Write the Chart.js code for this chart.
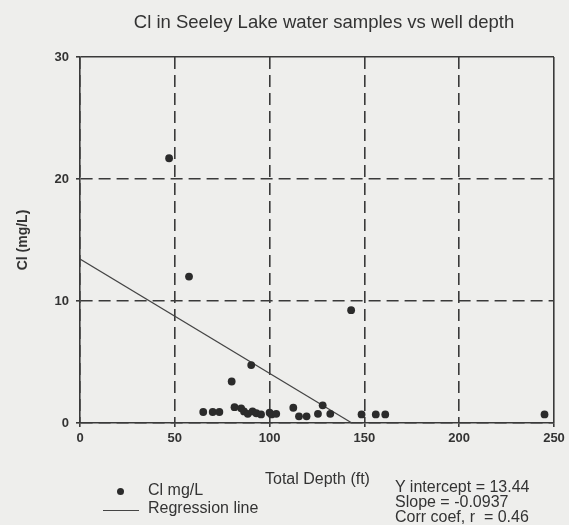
<!DOCTYPE html>
<html>
<head>
<meta charset="utf-8">
<script src="https://cdn.jsdelivr.net/npm/chart.js@4.4.1/dist/chart.umd.min.js"></script>
<style>
    html, body {
        margin: 0;
        padding: 0;
        background: #eeeeec;
        overflow: hidden;
    }
    #wrap {
        position: relative;
        width: 569px;
        height: 525px;
        font-family: "Liberation Sans", Arial, sans-serif;
        color: #333;
    }
    #chart {
        position: absolute;
        left: 0;
        top: 0;
    }
    .txt {
        position: absolute;
        font-size: 16px;
        line-height: 16px;
        white-space: pre;
    }
    #title {
        left: 124px;
        width: 400px;
        top: 13px;
        text-align: center;
        font-size: 18.5px;
        line-height: 18px;
    }
    #stats {
        left: 395px;
        top: 479px;
        line-height: 15px;
    }
    .dot {
        position: absolute;
        width: 7px;
        height: 7px;
        border-radius: 50%;
        background: #2b2b2b;
    }
    .rule {
        position: absolute;
        height: 1px;
        background: #444;
    }
</style>
</head>
<body>
<div id="wrap">
    <canvas id="chart" width="569" height="525"></canvas>
    <div class="txt" id="title">Cl in Seeley Lake water samples vs well depth</div>
    <div class="txt" style="left:265px; top:471px;">Total Depth (ft)</div>
    <span class="dot" style="left:117px; top:488px;"></span>
    <div class="txt" style="left:148px; top:482px;">Cl mg/L</div>
    <span class="rule" style="left:103px; top:510px; width:36px;"></span>
    <div class="txt" style="left:148px; top:500px;">Regression line</div>
    <div class="txt" id="stats">Y intercept = 13.44
Slope = -0.0937
Corr coef, r  = 0.46</div>
</div>
<script>
// well depth (ft) and chloride (mg/L) for each sample
const depthFt = [47, 57.5, 65, 70, 73.5, 80, 81.5, 85, 86.5, 88.5, 90.3, 91, 93, 95.5, 100, 101, 103.5,
    112.5, 115.5, 119.5, 125.5, 128, 132, 143, 148.5, 156, 161, 245];
const clMgL = [21.7, 12.0, 0.9, 0.9, 0.9, 3.4, 1.3, 1.2, 0.95, 0.75, 4.75, 0.95, 0.8, 0.7, 0.85, 0.7, 0.75,
    1.25, 0.55, 0.55, 0.75, 1.45, 0.75, 9.25, 0.7, 0.7, 0.7, 0.7];

// regression line end points (intercept 13.44, crosses zero near 143.4 ft)
const regDepth = [0, 143.4];
const regCl = [13.44, 0];

const xTicks = [0, 50, 100, 150, 200, 250];
const yTicks = [0, 10, 20, 30];

const ink = "#333";
const dash = [12, 6];

const samples = depthFt.map((d, i) => ({ x: d, y: clMgL[i] }));
const regression = regDepth.map((d, i) => ({ x: d, y: regCl[i] }));

const tickFont = { family: "'Liberation Sans', Arial, sans-serif", size: 13, weight: "bold" };

new Chart(document.getElementById("chart"), {
    type: "scatter",
    data: {
        datasets: [
            {
                label: "Cl mg/L",
                data: samples,
                backgroundColor: "#2b2b2b",
                borderColor: "#2b2b2b",
                pointRadius: 3.9,
                pointBorderWidth: 0,
            },
            {
                label: "Regression line",
                data: regression,
                showLine: true,
                borderColor: "#444",
                borderWidth: 1.2,
                pointRadius: 0,
            },
        ],
    },
    options: {
        responsive: false,
        animation: false,
        layout: {
            padding: { top: 57, right: 15, bottom: 72, left: 0 },
        },
        plugins: {
            legend: { display: false },
            tooltip: { enabled: false },
        },
        scales: {
            x: {
                type: "linear",
                min: xTicks[0],
                max: xTicks[xTicks.length - 1],
                afterBuildTicks: (scale) => {
                    scale.ticks = xTicks.map((v) => ({ value: v }));
                },
                afterFit: (scale) => {
                    scale.height = 30;
                    scale.paddingLeft = 0;
                    scale.paddingRight = 0;
                },
                ticks: {
                    color: ink,
                    font: tickFont,
                    padding: 4,
                    maxRotation: 0,
                },
                grid: {
                    color: "#3a3a3a",
                    lineWidth: 1.6,
                    tickLength: 4,
                    tickColor: "#3a3a3a",
                },
                border: {
                    color: "#3a3a3a",
                    width: 1.6,
                    dash: (ctx) => (ctx.tick && ctx.tick.value === 250 ? [] : dash),
                },
            },
            y: {
                type: "linear",
                min: yTicks[0],
                max: yTicks[yTicks.length - 1],
                afterBuildTicks: (scale) => {
                    scale.ticks = yTicks.map((v) => ({ value: v }));
                },
                afterFit: (scale) => {
                    scale.width = 80;
                    scale.paddingTop = 0;
                    scale.paddingBottom = 0;
                },
                ticks: {
                    color: ink,
                    font: tickFont,
                    padding: 7,
                },
                grid: {
                    color: "#3a3a3a",
                    lineWidth: 1.6,
                    tickLength: 4,
                    tickColor: "#3a3a3a",
                },
                border: {
                    color: "#3a3a3a",
                    width: 1.6,
                    dash: (ctx) => (ctx.tick && ctx.tick.value === 30 ? [] : dash),
                },
                title: {
                    display: true,
                    text: "Cl (mg/L)",
                    color: ink,
                    font: { family: "'Liberation Sans', Arial, sans-serif", size: 14, weight: "bold" },
                    padding: { top: 15, bottom: 0 },
                },
            },
        },
    },
});
</script>
</body>
</html>
